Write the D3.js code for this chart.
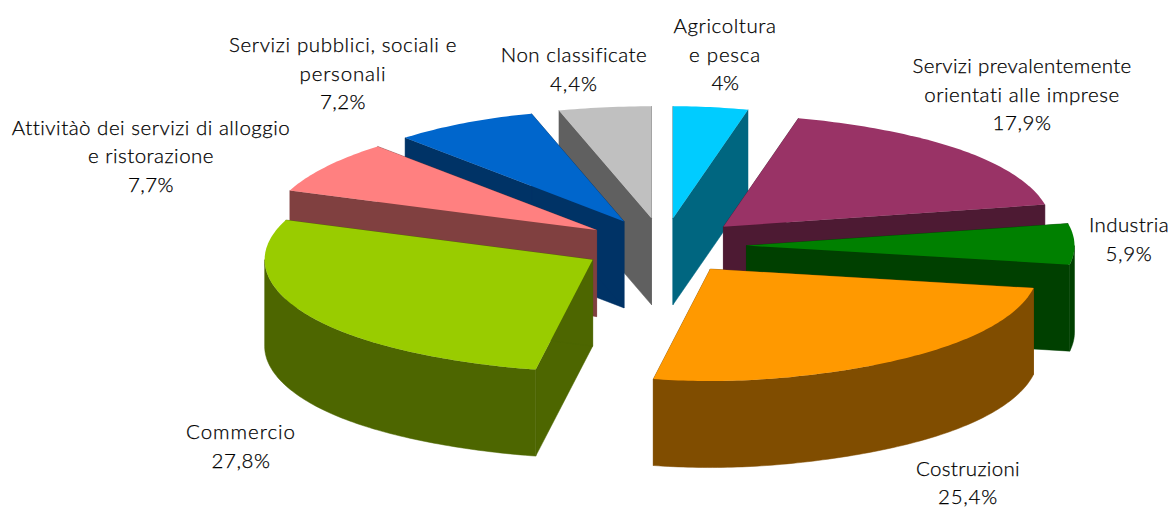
<!DOCTYPE html>
<html><head><meta charset="utf-8">
<script src="https://cdnjs.cloudflare.com/ajax/libs/d3/7.8.5/d3.min.js"></script>
<style>html,body{margin:0;padding:0;background:#fff;overflow:hidden}
text{font-family:Lato,"Noto Sans",sans-serif;font-weight:300;fill:#000;stroke:#000;stroke-width:.25px;font-size:20.5px}</style>
</head><body><svg id="c" width="1171" height="507"></svg>
<script>
const categories=["Agricoltura e pesca","Servizi prevalentemente orientati alle imprese","Industria","Costruzioni","Commercio","Attivitàò dei servizi di alloggio e ristorazione","Servizi pubblici, sociali e personali","Non classificate"];
const values=[4,17.9,5.9,25.4,27.8,7.7,7.2,4.4];
const valueLabels=["4%","17,9%","5,9%","25,4%","27,8%","7,7%","7,2%","4,4%"];
const labelLines=[["Agricoltura","e pesca"],["Servizi prevalentemente","orientati alle imprese"],["Industria"],["Costruzioni"],["Commercio"],["Attivitàò dei servizi di alloggio","e ristorazione"],["Servizi pubblici, sociali e","personali"],["Non classificate"]];
const topColors=["#00ccff","#993366","#008000","#ff9900","#99cc00","#ff8080","#0066cc","#c0c0c0"];

// layout, kept apart from the data
const labelAnchors=[[725,33],[1022,73],[1129,232],[968,475.5],[241,439],[151,134.5],[343,52],[574,62]];
const labelWidths=[[103,72,27],[219,196,59],[80,47],[104,60],[110,59],[278,126,46],[228,87,46],[146,48]];
const lineStep=28.5;
const cx=662.5,cy=246,eLeft=80,eRight=84,ey=28,rx=328,ry=112,depth=86.5;
function warp(a){
  const c=Math.cos(a),w=Math.pow(c,8);
  if(c<0) return 1-0.1*w;
  return Math.sin(a)>0?1-0.1*w:1+0.05*w;
}

const svg=d3.select("#c");
const arcs=d3.pie().sort(null).startAngle(0).endAngle(2*Math.PI)(values);
const rows=arcs.map((d,i)=>{
  const mid=(d.startAngle+d.endAngle)/2,sn=Math.sin(mid);
  return {i,a0:d.startAngle,a1:d.endAngle,mid,ax:cx+(sn>0?eRight:eLeft)*sn,ay:cy-ey*Math.cos(mid)};
});
const rim=(s,a)=>[s.ax+rx*warp(a)*Math.sin(a),s.ay-ry*Math.cos(a)];
const line=d3.line();
function arcPts(s,a0,a1){const n=Math.max(2,Math.ceil((a1-a0)*60));return d3.range(n+1).map(k=>rim(s,a0+(a1-a0)*k/n));}
const down=p=>[p[0],p[1]+depth];

const order=rows.slice().sort((p,q)=>(-Math.cos(p.mid))-(-Math.cos(q.mid)));
const g=svg.selectAll("g.slice").data(order).join("g").attr("class","slice");
g.each(function(s){
  const el=d3.select(this),top=topColors[s.i],base=d3.rgb(top);
  const side=d3.rgb(base.r*.5,base.g*.5,base.b*.5).formatHex();
  const apex=[s.ax,s.ay];
  [s.a0,s.a1].forEach(a=>{
    const e=rim(s,a);
    el.append("path").attr("d",line([apex,e,down(e),down(apex)])+"Z").attr("fill",side).attr("stroke",side).attr("stroke-width",.5);
  });
  const lo=Math.max(s.a0,Math.PI/2),hi=Math.min(s.a1,3*Math.PI/2);
  if(hi>lo){
    const p=arcPts(s,lo,hi);
    el.append("path").attr("d",line(p.concat(p.map(down).reverse()))+"Z").attr("fill",side).attr("stroke",side).attr("stroke-width",.5);
  }
  el.append("path").attr("d",line([apex].concat(arcPts(s,s.a0,s.a1)))+"Z").attr("fill",top);
});

const lab=svg.selectAll("g.label").data(categories).join("g").attr("class","label");
lab.each(function(c,i){
  const el=d3.select(this),[x,y]=labelAnchors[i];
  const lines=labelLines[i].concat([valueLabels[i]]);
  lines.forEach((t,k)=>{
    const tx=el.append("text").attr("x",x).attr("y",y+k*lineStep).attr("text-anchor","middle").text(t);
    const w=labelWidths[i][k];
    if(w){const n=tx.node(),cur=n.getComputedTextLength();tx.style("letter-spacing",((w-cur)/t.length)+"px");}
  });
});
</script></body></html>
